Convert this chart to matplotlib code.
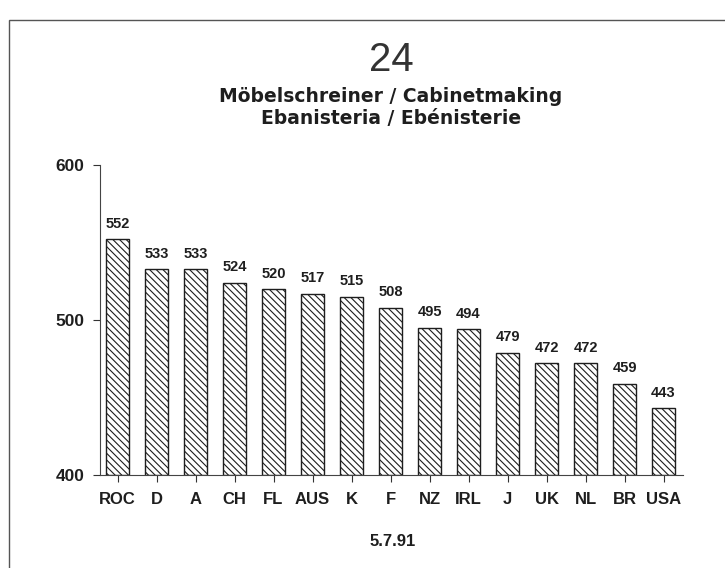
import matplotlib
matplotlib.use("Agg")
import matplotlib.pyplot as plt
from matplotlib.patches import Rectangle

plt.rcParams['font.family'] = ['Liberation Sans', 'DejaVu Sans']
plt.rcParams['hatch.linewidth'] = 0.8

countries = ['ROC', 'D', 'A', 'CH', 'FL', 'AUS', 'K', 'F', 'NZ', 'IRL',
             'J', 'UK', 'NL', 'BR', 'USA']
scores = [552, 533, 533, 524, 520, 517, 515, 508, 495, 494,
          479, 472, 472, 459, 443]
yticks = [400, 500, 600]

ink = '#1e1e1e'

fig = plt.figure(figsize=(7.25, 5.68), dpi=100)
ax = fig.add_axes([100 / 725, 1 - 475 / 568, 583 / 725, 310 / 568])

xs = list(range(len(countries)))
ax.bar(xs, [s - 400 for s in scores], bottom=400, width=0.59,
       color='white', edgecolor=ink, linewidth=1.0, hatch='\\\\\\\\\\')

for x, s in zip(xs, scores):
    ax.annotate(str(s), (x, s), xytext=(0, 6), textcoords='offset points',
                ha='center', va='bottom', fontsize=10.5, fontweight='bold', color=ink)

ax.set_xlim(-0.45, 14.5)
ax.set_ylim(400, 600)
ax.set_yticks(yticks)
ax.set_yticklabels([str(t) for t in yticks], fontsize=12.5, fontweight='bold')
ax.set_xticks(xs)
ax.set_xticklabels(countries, fontsize=12, fontweight='bold')
ax.tick_params(axis='both', length=5, width=0.8, color='#333333', labelcolor=ink)
ax.tick_params(axis='y', pad=6)
ax.tick_params(axis='x', pad=7)
ax.spines['top'].set_visible(False)
ax.spines['right'].set_visible(False)
ax.spines['left'].set_color('#444444')
ax.spines['bottom'].set_color('#444444')
ax.spines['left'].set_linewidth(0.8)
ax.spines['bottom'].set_linewidth(0.8)

cx = 391 / 725
fig.text(cx, 1 - 60 / 568, '24', ha='center', va='center', fontsize=29, color='#333333')
fig.text(cx, 1 - 96 / 568, 'Möbelschreiner / Cabinetmaking', ha='center', va='center',
         fontsize=13.5, fontweight='bold', color=ink, family='DejaVu Sans')
fig.text(cx, 1 - 118 / 568, 'Ebanisteria / Ebénisterie', ha='center', va='center',
         fontsize=13.5, fontweight='bold', color=ink, family='DejaVu Sans')
fig.text(393 / 725, 1 - 542 / 568, '5.7.91', ha='center', va='center', fontsize=12,
         fontweight='bold', color=ink)

# page frame
fig.patches.append(Rectangle((9 / 725, -0.1), 1.2, 1 - 20 / 568 + 0.1,
                             transform=fig.transFigure, fill=False,
                             edgecolor='#555555', linewidth=1.0))

fig.savefig('out.png', dpi=100)
